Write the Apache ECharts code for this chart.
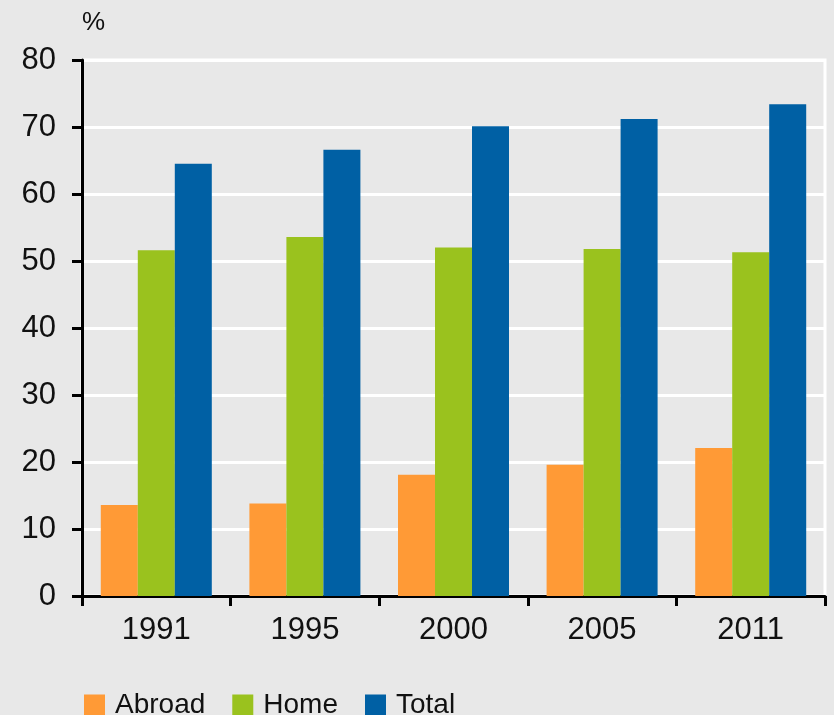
<!DOCTYPE html>
<html>
<head>
<meta charset="utf-8">
<script src="https://cdn.jsdelivr.net/npm/echarts@6/dist/echarts.min.js"></script>
<style>
  html, body { margin: 0; padding: 0; background: #e8e8e8; }
  #chart { width: 834px; height: 715px; }
</style>
</head>
<body>
<div id="chart"></div>
<script>
// Survey years along the x axis
const years = ['1991', '1995', '2000', '2005', '2011'];
// Shares in percent
const abroad = [13.6, 13.8, 18.1, 19.6, 22.1];
const home = [51.6, 53.6, 52.0, 51.8, 51.3];
const total = [64.5, 66.6, 70.1, 71.2, 73.4];
const seriesNames = ['Abroad', 'Home', 'Total'];
const colors = ['#ff9a36', '#9ac21e', '#0060a4'];

const font = 'Liberation Sans, Arial, sans-serif';
const chart = echarts.init(document.getElementById('chart'), null, { renderer: 'canvas' });

const makeBar = (name, data, color) => ({
  name: name,
  type: 'bar',
  data: data,
  barWidth: 37,
  barGap: '0%',
  itemStyle: { color: color },
  emphasis: { disabled: true }
});

chart.setOption({
  backgroundColor: '#e8e8e8',
  animation: false,
  color: colors,
  grid: {
    left: 82, right: 9, top: 60, bottom: 119,
    show: true,
    backgroundColor: 'transparent',
    borderColor: '#ffffff',
    borderWidth: 3
  },
  legend: {
    data: seriesNames,
    left: 79,
    top: 686,
    itemWidth: 21,
    itemHeight: 21,
    itemGap: 27,
    icon: 'rect',
    textStyle: { fontFamily: font, fontSize: 28, color: '#111', padding: [0, 0, 0, 5] }
  },
  xAxis: {
    type: 'category',
    data: years,
    axisLine: { lineStyle: { color: '#000', width: 3 } },
    axisTick: { show: true, length: 10, lineStyle: { color: '#000', width: 3 } },
    axisLabel: { fontFamily: font, fontSize: 31, color: '#111', margin: 19 },
    splitLine: { show: false }
  },
  yAxis: {
    type: 'value',
    min: 0,
    max: 80,
    interval: 10,
    name: '%',
    nameLocation: 'end',
    nameGap: 24,
    nameTextStyle: { fontFamily: font, fontSize: 26, color: '#111', align: 'left' },
    axisLine: { show: true, lineStyle: { color: '#000', width: 3 } },
    axisTick: { show: true, length: 10, lineStyle: { color: '#000', width: 3 } },
    axisLabel: { fontFamily: font, fontSize: 31, color: '#111', margin: 26 },
    splitLine: { show: true, lineStyle: { color: '#ffffff', width: 3 } }
  },
  series: [
    makeBar(seriesNames[0], abroad, colors[0]),
    makeBar(seriesNames[1], home, colors[1]),
    makeBar(seriesNames[2], total, colors[2])
  ]
});
</script>
</body>
</html>
